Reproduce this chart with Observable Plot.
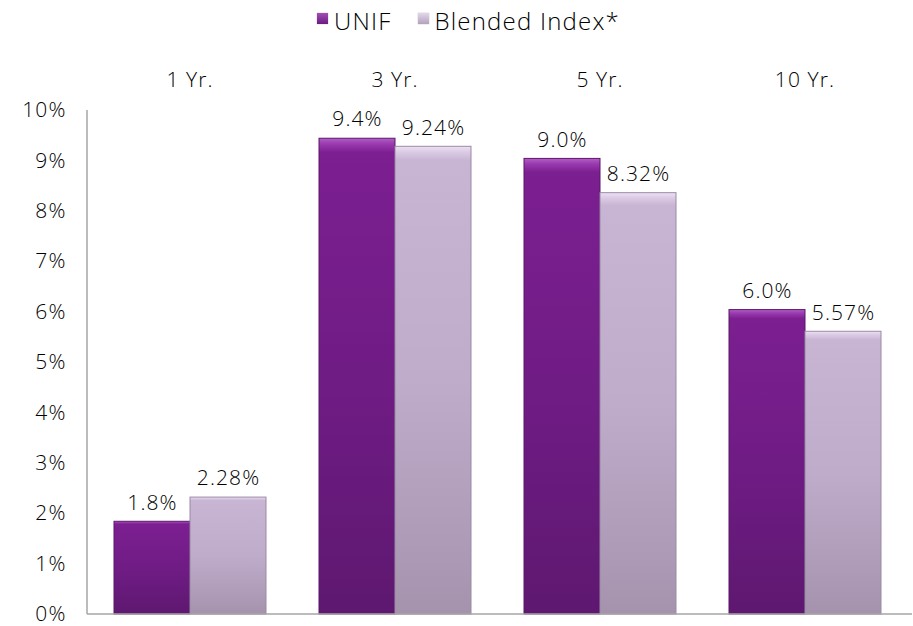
<!DOCTYPE html>
<html>
<head>
<meta charset="utf-8">
<script src="https://cdn.jsdelivr.net/npm/d3@7"></script>
<script src="https://cdn.jsdelivr.net/npm/@observablehq/plot@0.6"></script>
<style>
  body { margin: 0; background: #fff; font-family: "Open Sans", sans-serif; font-weight: 300; color: #000; }
  #legend { height: 44px; display: flex; justify-content: center; align-items: flex-start; gap: 26px; font-size: 24px; letter-spacing: 1.2px; box-sizing: border-box; padding-top: 4px; padding-left: 24px; }
  #legend .item { display: flex; align-items: flex-start; gap: 6px; }
  #legend .sw { width: 11px; height: 11px; display: inline-block; margin-top: 9px; box-shadow: 0 0 1px rgba(0,0,0,0.4); }
</style>
</head>
<body>
<div id="legend"></div>
<div id="chart"></div>
<script>
const periods = ["1 Yr.", "3 Yr.", "5 Yr.", "10 Yr."];
const series = ["UNIF", "Blended Index*"];
const unif = [1.8, 9.4, 9.0, 6.0];
const blended = [2.28, 9.24, 8.32, 5.57];
const yTicks = [0, 1, 2, 3, 4, 5, 6, 7, 8, 9, 10];

const data = periods.flatMap((p, i) => [
  { period: p, series: series[0], value: unif[i], label: unif[i].toFixed(1) + "%" },
  { period: p, series: series[1], value: blended[i], label: blended[i].toFixed(2) + "%" }
]);

const fontSize = 21;
const W = 913, ML = 86, MR = 5;
const plot = Plot.plot({
  width: W,
  height: 582,
  marginTop: 66,
  marginBottom: 12,
  marginLeft: ML,
  marginRight: MR,
  style: { fontFamily: "'Open Sans', sans-serif", fontWeight: 300, fontSize: fontSize + "px", color: "#000", background: "#fff", letterSpacing: "1.1px" },
  fx: { domain: periods, padding: 0, label: null, axis: null },
  x: { domain: series, paddingInner: 0, paddingOuter: 0.334, axis: null },
  y: { domain: [0, 10], axis: null },
  marks: [
    Plot.axisFx({ anchor: "top", tickSize: 0, tickPadding: 24, fontSize: fontSize, label: null }),
    Plot.axisY({ ticks: yTicks, tickFormat: d => d + "%", tickSize: 0, tickPadding: 21, fontSize: fontSize, label: null }),
    Plot.barY(data.filter(d => d.series === series[0]), { fx: "period", x: "series", y: "value", insetTop: -2, fill: "url(#gU)", stroke: "#5a1768", strokeWidth: 1 }),
    Plot.barY(data.filter(d => d.series === series[1]), { fx: "period", x: "series", y: "value", insetTop: -2, fill: "url(#gB)", stroke: "#9a8aa5", strokeWidth: 1 }),
    Plot.text(data, { fx: "period", x: "series", y: "value", text: "label", dy: -21, fontSize: fontSize, fill: "#000" })
  ]
});

const svg = d3.select(plot);
const defs = svg.insert("defs", ":first-child");
function grad(id, stops) {
  const g = defs.append("linearGradient").attr("id", id).attr("x1", 0).attr("y1", 0).attr("x2", 0).attr("y2", 1);
  stops.forEach(([o, c]) => g.append("stop").attr("offset", o).attr("stop-color", c));
}
grad("gU", [["0", "#b15fc4"], ["0.012", "#9a3ab0"], ["0.03", "#7c1f91"], ["0.5", "#701c85"], ["1", "#5e1870"]]);
grad("gB", [["0", "#ece1f2"], ["0.012", "#dccbe5"], ["0.03", "#c8b5d4"], ["0.5", "#bfaccb"], ["1", "#a593ae"]]);

const ys = plot.scale("y");
const x0 = 87, x1 = 912;
svg.append("line").attr("x1", x0).attr("x2", x0).attr("y1", ys.apply(10)).attr("y2", ys.apply(0))
  .attr("stroke", "#a6a6a6").attr("stroke-width", 1.5);
svg.append("line").attr("x1", x0).attr("x2", x1).attr("y1", ys.apply(0)).attr("y2", ys.apply(0))
  .attr("stroke", "#a6a6a6").attr("stroke-width", 1.5);

document.getElementById("chart").appendChild(plot);

const legend = d3.select("#legend");
[["UNIF", "linear-gradient(#a24fb8, #6a1b80)"], ["Blended Index*", "linear-gradient(#e3d6ea, #b3a2be)"]].forEach(([name, bg]) => {
  const it = legend.append("div").attr("class", "item");
  it.append("span").attr("class", "sw").style("background", bg);
  it.append("span").text(name);
});
</script>
</body>
</html>
